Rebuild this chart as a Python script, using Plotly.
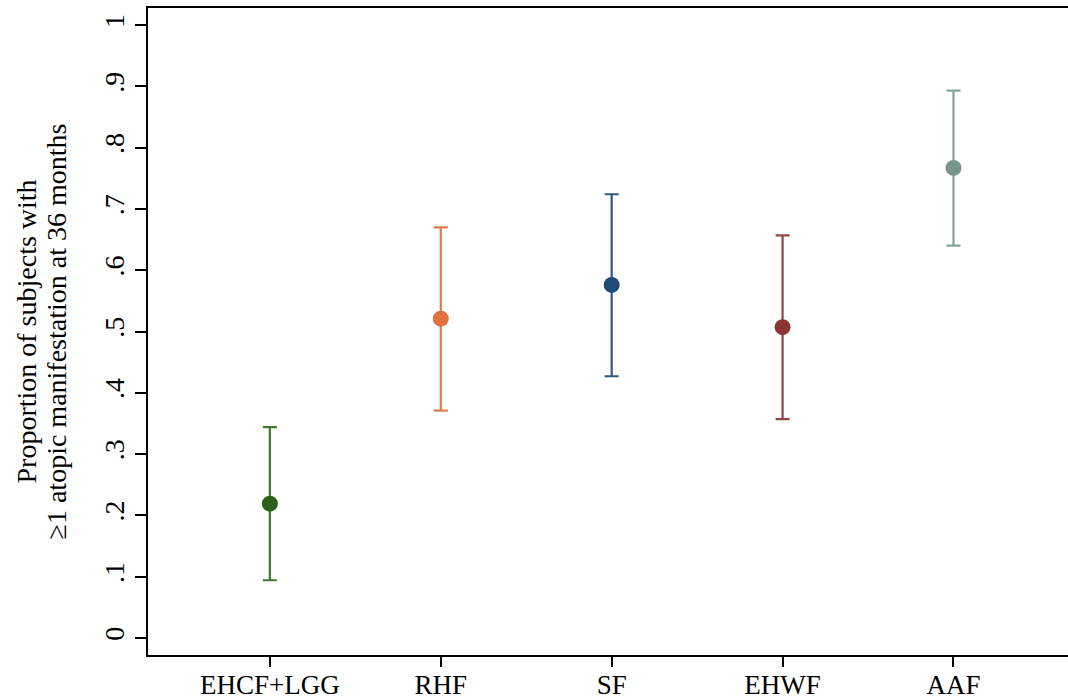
import plotly.graph_objects as go

categories = ["EHCF+LGG", "RHF", "SF", "EHWF", "AAF"]
proportions = [0.219, 0.521, 0.576, 0.507, 0.767]
upper_ci = [0.344, 0.670, 0.724, 0.657, 0.893]
lower_ci = [0.094, 0.371, 0.427, 0.357, 0.640]
marker_colors = ["#2a6119", "#e0703c", "#224a78", "#8a3535", "#779688"]
bar_colors = ["#3f7a2b", "#e37a48", "#33587f", "#964545", "#86a296"]
y_ticks = [0, 0.1, 0.2, 0.3, 0.4, 0.5, 0.6, 0.7, 0.8, 0.9, 1.0]
y_ticklabels = ["0", ".1", ".2", ".3", ".4", ".5", ".6", ".7", ".8", ".9", "1"]
title_lines = ["Proportion of subjects with", "\u22651 atopic manifestation at 36 months"]

fig = go.Figure()
for i, cat in enumerate(categories):
    fig.add_trace(go.Scatter(
        x=[i + 1], y=[proportions[i]],
        mode="markers",
        marker=dict(size=16, color=marker_colors[i]),
        error_y=dict(type="data", symmetric=False,
                     array=[upper_ci[i] - proportions[i]],
                     arrayminus=[proportions[i] - lower_ci[i]],
                     color=bar_colors[i], thickness=2.2, width=7),
        name=cat, showlegend=False,
    ))

font_family = "Liberation Serif, Times New Roman, serif"
fig.update_layout(
    width=1068, height=700,
    margin=dict(l=148, r=0, t=8, b=45),
    plot_bgcolor="white", paper_bgcolor="white",
    font=dict(family=font_family, size=27, color="black"),
    xaxis=dict(
        range=[0.287, 5.67],
        tickmode="array", tickvals=[1, 2, 3, 4, 5], ticktext=categories,
        showline=True, linecolor="black", linewidth=2, mirror=True,
        ticks="outside", ticklen=10, tickwidth=1.5, tickcolor="black",
        ticklabelstandoff=-5,
        showgrid=False, zeroline=False,
        tickfont=dict(size=27),
        automargin=False,
    ),
    yaxis=dict(
        range=[-0.028, 1.028],
        tickmode="array", tickvals=y_ticks, ticktext=y_ticklabels,
        tickangle=-90,
        showline=True, linecolor="black", linewidth=2,
        ticks="outside", ticklen=11, tickwidth=1.5, tickcolor="black",
        showgrid=False, zeroline=False,
        tickfont=dict(size=28),
        automargin=False,
    ),
)

title_x = [-0.1326, -0.0990]
for tx, line in zip(title_x, title_lines):
    fig.add_annotation(
        text=line, textangle=-90,
        xref="paper", yref="paper", x=tx, y=0.5,
        xanchor="center", yanchor="middle", showarrow=False,
        font=dict(size=28, family=font_family, color="black"),
    )

fig.write_html(
    "out.html",
    config={"displayModeBar": False},
    post_script="document.body.style.margin='0';document.body.style.overflow='hidden';",
)
